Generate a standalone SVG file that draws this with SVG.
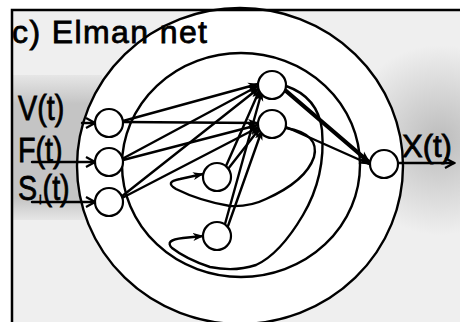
<svg xmlns="http://www.w3.org/2000/svg" width="460" height="322" viewBox="0 0 460 322">
<defs>
<style>
.n{fill:#fff;stroke:#000;stroke-width:2.2}
.c{fill:none;stroke:#000;stroke-width:2.4;stroke-linecap:round;stroke-linejoin:round}
.a{marker-end:url(#ah)}
.o{marker-end:url(#oa)}
.ring{fill:none;stroke:#000;stroke-width:2.4}
text{font-family:"Liberation Sans",Arial,sans-serif;fill:#000;stroke:#000;stroke-width:0.8}
</style>
<marker id="ah" markerWidth="11" markerHeight="9" refX="10" refY="4.5" orient="auto" markerUnits="userSpaceOnUse">
<path d="M0,0.5 L11,4.5 L0,8.5 L3,4.5 Z" fill="#000"/>
</marker>
<marker id="oa" markerWidth="12" markerHeight="12" refX="10" refY="6" orient="auto" markerUnits="userSpaceOnUse">
<path d="M1,1 L10,6 L1,11" fill="none" stroke="#000" stroke-width="2.2"/>
</marker>
<radialGradient id="gr" cx="440" cy="140" r="95" gradientUnits="userSpaceOnUse">
<stop offset="0" stop-color="#bcbcbc"/>
<stop offset="1" stop-color="#efefef"/>
</radialGradient>
<linearGradient id="gl" x1="0" y1="0" x2="0" y2="1">
<stop offset="0" stop-color="#e6e6e6"/>
<stop offset="0.2" stop-color="#c4c4c4"/>
<stop offset="0.85" stop-color="#c4c4c4"/>
<stop offset="1" stop-color="#e6e6e6"/>
</linearGradient>
</defs>
<rect x="0" y="0" width="460" height="322" fill="#fff"/>
<rect x="12" y="10" width="448" height="312" fill="url(#gr)"/>
<rect x="12" y="75" width="90" height="145" fill="url(#gl)"/>
<ellipse id="outer" cx="240" cy="166" rx="163" ry="158" fill="#fff" stroke="#000" stroke-width="2.4"/>
<ellipse id="inner" cx="241" cy="165" rx="119" ry="112" class="ring"/>
<path d="M12,322 V10 H460" fill="none" stroke="#000" stroke-width="2.5"/>

<text x="12" y="43" font-size="32" textLength="195" lengthAdjust="spacing">c) Elman net</text>

<g transform="translate(18,0) scale(0.82,1)" font-size="35">
<text x="0" y="120">V(t)</text>
<text x="0" y="162">F(t)</text>
<text y="200"><tspan x="0">S</tspan><tspan x="26" y="204" font-size="12">i</tspan><tspan x="30" y="200">(t)</tspan></text>
</g>
<text x="402" y="157" font-size="31">X(t)</text>

<g id="connectors">
<line class="c o" x1="82" y1="123" x2="95" y2="123"/>
<line class="c o" x1="32" y1="162" x2="95" y2="162"/>
<line class="c o" x1="32" y1="202" x2="95" y2="202"/>
<line class="c a" x1="123" y1="121" x2="258" y2="84"/>
<line class="c a" x1="123" y1="122" x2="258" y2="123"/>
<line class="c a" x1="122" y1="159" x2="258" y2="86"/>
<line class="c a" x1="123" y1="160" x2="258" y2="125"/>
<line class="c a" x1="121" y1="197" x2="259" y2="88"/>
<line class="c a" x1="122" y1="198" x2="259" y2="127"/>
<line class="c a" x1="226" y1="166" x2="260" y2="89"/>
<line class="c a" x1="228" y1="169" x2="260" y2="128"/>
<line class="c a" x1="225" y1="224" x2="262" y2="91"/>
<line class="c a" x1="228" y1="226" x2="262" y2="130"/>
<line class="c a" x1="285" y1="89" x2="369" y2="161"/>
<line class="c a" x1="286" y1="92" x2="369" y2="163"/>
<line class="c a" x1="286" y1="127" x2="369" y2="164"/>
<line class="c o" x1="398" y1="163" x2="454" y2="163"/>
<path class="c a" d="M286,128 Q320,134 314,157 Q306,181 266,199 Q250,207 230,206 Q200,201 176,189 Q164,182 180,179 L203,174"/>
<path class="c a" d="M286,86 Q318,97 322,130 Q326,176 303,215 Q280,254 256,265 Q235,272 210,267 Q186,259 172,248 Q164,240 183,238 L203,236"/>
</g>

<g id="node-V"><circle class="n" cx="109" cy="123" r="14"/></g>
<g id="node-F"><circle class="n" cx="109" cy="162" r="14"/></g>
<g id="node-S"><circle class="n" cx="109" cy="202" r="14"/></g>
<g id="node-H1"><circle class="n" cx="272" cy="85" r="14"/></g>
<g id="node-H2"><circle class="n" cx="272" cy="124" r="14"/></g>
<g id="node-C1"><circle class="n" cx="217" cy="177" r="14"/></g>
<g id="node-C2"><circle class="n" cx="217" cy="236" r="14"/></g>
<g id="node-X"><circle class="n" cx="384" cy="164" r="14"/></g>
</svg>
